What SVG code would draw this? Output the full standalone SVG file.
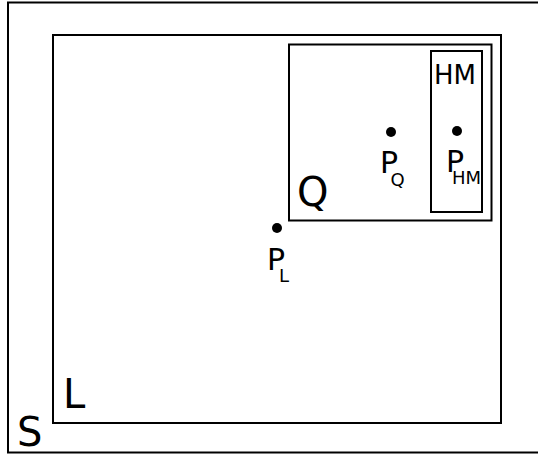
<svg xmlns="http://www.w3.org/2000/svg" width="538" height="455" viewBox="0 0 538 455">
<style>
.box{fill:none;stroke:#000;stroke-width:2}
.dot{fill:#000}
text{font-family:"DejaVu Sans",sans-serif;fill:#000}
.big{font-size:40px}
.mid{font-size:26px}
.p{font-size:30px}
.sub{font-size:18px}
</style>
<rect width="538" height="455" fill="#fff"/>
<g id="S"><rect class="box" x="8" y="2.5" width="532" height="450"/><text class="big" x="17" y="446">S</text></g>
<g id="L"><rect class="box" x="53" y="35" width="448" height="388"/><text class="big" x="63" y="408">L</text></g>
<g id="Q"><rect class="box" x="289" y="44.5" width="202.5" height="176"/><text class="big" x="297" y="206">Q</text></g>
<g id="HM"><rect class="box" x="431" y="51" width="51" height="161"/><text class="mid" x="434" y="84">HM</text></g>
<g id="PQ"><circle class="dot" cx="391" cy="132" r="5"/><text class="p" x="380" y="173">P</text><text class="sub" x="390.5" y="186">Q</text></g>
<g id="PHM"><circle class="dot" cx="457" cy="131" r="5"/><text class="p" x="446" y="172">P</text><text class="sub" x="452" y="184">HM</text></g>
<g id="PL"><circle class="dot" cx="277" cy="228" r="5"/><text class="p" x="267" y="270">P</text><text class="sub" x="279" y="282">L</text></g>
<g id="connectors"/>
</svg>
